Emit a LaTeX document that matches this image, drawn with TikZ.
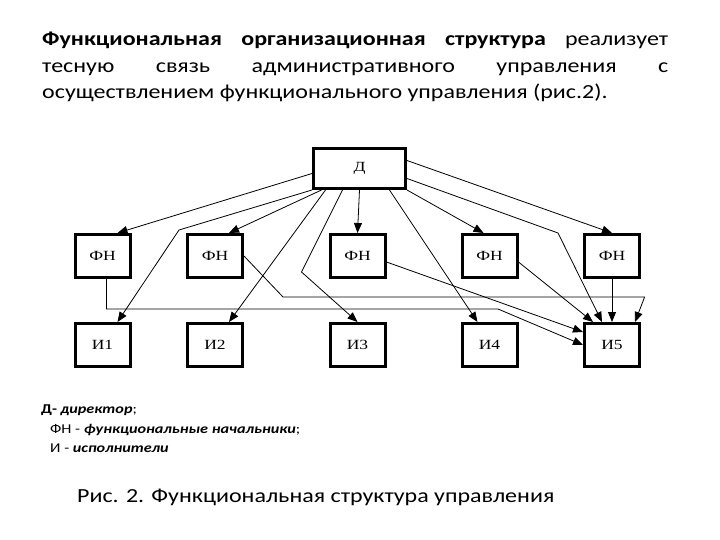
\documentclass[tikz,border=0pt]{standalone}
\usepackage{fontspec}
\setmainfont{Carlito}[FakeStretch=1.2]
\newfontfamily\boxfont{Liberation Serif}[FakeStretch=1.25]
\usetikzlibrary{arrows.meta}

\begin{document}
\begin{tikzpicture}[x=1pt, y=-1pt,
  unit/.style={draw, line width=3pt, minimum width=55pt, minimum height=43pt, inner sep=0pt, font=\boxfont\fontsize{14}{16}\selectfont},
  link/.style={line width=0.8pt, -{Triangle[length=10pt, width=8pt]}}]

\useasboundingbox[fill=white] (0,0) rectangle (720,540);

\node[anchor=base west, text width=626pt, align=justify, inner sep=0pt, font=\fontsize{20}{26.5}\selectfont] (intro) at (42,46) {\textbf{Функциональная организационная структура} реализует\linebreak тесную связь административного управления с\linebreak осуществлением функционального управления (рис.2).};

\node[unit, minimum width=92pt, minimum height=40pt] (d) at (359.5,168.5) {Д};
\node[unit] (f1) at (102.5,256) {ФН};
\node[unit] (f2) at (215,256) {ФН};
\node[unit] (f3) at (357.5,256) {ФН};
\node[unit] (f4) at (489.5,256) {ФН};
\node[unit] (f5) at (612,256) {ФН};
\node[unit] (i1) at (102.5,345) {И1};
\node[unit] (i2) at (215,345) {И2};
\node[unit] (i3) at (357.5,345) {И3};
\node[unit] (i4) at (489.5,345) {И4};
\node[unit] (i5) at (612,345) {И5};

\coordinate (k1) at (179,230);
\coordinate (k3) at (301.5,272);
\coordinate (k5) at (558,233);
\coordinate (r1) at (498,309);
\coordinate (r2a) at (283,297);
\coordinate (r2b) at (644.6,297);

% director
\draw[link] ([yshift=-5pt]d.west) -- ([xshift=15pt]f1.north);
\draw[link] (d.south west) -- (k1) -- ([xshift=15pt]i1.north);
\draw[link] ([xshift=-38pt]d.south) -- ([xshift=14pt]f2.north);
\draw[link] ([xshift=-34pt]d.south) -- ([xshift=14pt]i2.north);
\draw[link] ([xshift=-17pt]d.south) -- (k3) -- (i3.north);
\draw[link] (d.south) -- (f3.north);
\draw[link] ([xshift=30pt]d.south) -- ([xshift=-12pt]i4.north);
\draw[link] (d.south east) -- ([xshift=-6pt]f4.north);
\draw[link] ([yshift=-10pt]d.east) -- (k5) -- ([xshift=-10pt]i5.north);
\draw[link] ([yshift=8pt]d.east) -- (f5.north);

% functional heads
\draw[link] ([xshift=4pt]f1.south) |- (r1) -- (i5.west);
\draw[link] (f2.east) -- (r2a) -- (r2b) -- ([xshift=23pt]i5.north);
\draw[link] ([yshift=-6pt]f3.east) -- ([yshift=13pt]i5.west);
\draw[link] ([yshift=-6pt]f4.east) -- ([xshift=-19pt]i5.north);
\draw[link] (f5.south) -- (i5.north);

\node[anchor=base west, inner sep=0pt, font=\fontsize{13.5}{16}\selectfont] (legd) at (41,413) {\textbf{Д-} \textbf{\textit{директор}};};
\node[anchor=base west, inner sep=0pt, font=\fontsize{13.5}{16}\selectfont] (legf) at (50,433) {ФН - \textbf{\textit{функциональные начальники}};};
\node[anchor=base west, inner sep=0pt, font=\fontsize{13.5}{16}\selectfont] (legi) at (50,452) {И - \textbf{\textit{исполнители}}};

\node[anchor=base west, inner sep=0pt, font=\fontsize{20}{24}\selectfont] (caption) at (77,502) {Рис. 2. Функциональная структура управления};

\end{tikzpicture}
\end{document}
